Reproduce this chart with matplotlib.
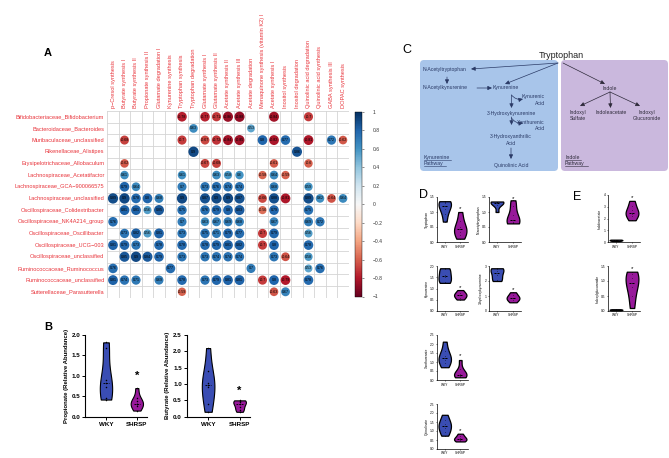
import numpy as np
import matplotlib
import matplotlib.pyplot as plt
from matplotlib.patches import Circle, FancyBboxPatch

plt.rcParams['font.family'] = ['Liberation Sans', 'DejaVu Sans']

# ---------------- data ----------------
taxa = ['Bifidobacteriaceae_Bifidobacterium', 'Bacteroidaceae_Bacteroides',
        'Muribaculaceae_unclassified', 'Rikenellaceae_Alistipes',
        'Erysipelotrichaceae_Allobaculum', 'Lachnospiraceae_Acetatifactor',
        'Lachnospiraceae_GCA\u2212900066575', 'Lachnospiraceae_unclassified',
        'Oscillospiraceae_Colidextribacter', 'Oscillospiraceae_NK4A214_group',
        'Oscillospiraceae_Oscillibacter', 'Oscillospiraceae_UCG\u2212003',
        'Oscillospiraceae_unclassified', 'Ruminococcaceae_Ruminococcus',
        'Ruminococcaceae_unclassified', 'Sutterellaceae_Parasutterella']

pathways = ['p\u2212Cresol synthesis', 'Butyrate synthesis I', 'Butyrate synthesis II',
            'Propionate synthesis II', 'Glutamate degradation I', 'Kynurenine synthesis',
            'Tryptophan synthesis', 'Tryptophan degradation', 'Glutamate synthesis I',
            'Glutamate synthesis II', 'Acetate synthesis II', 'Acetate synthesis III',
            'Acetate degradation', 'Menaquinone synthesis (vitamin K2) I',
            'Acetate synthesis I', 'Inositol synthesis', 'Inositol degradation',
            'Quinolinic acid degradation', 'Quinolinic acid synthesis',
            'GABA synthesis III', 'DOPAC synthesis']

N = None
corr = [
    [N, N, N, N, N, N, -0.78, N, -0.77, -0.71, -0.86, -0.88, N, N, -0.84, N, N, -0.7, N, N, N],
    [N, N, N, N, N, N, N, 0.63, N, N, N, N, 0.53, N, N, N, N, N, N, N, N],
    [N, -0.68, N, N, N, N, -0.7, N, -0.67, -0.72, -0.84, -0.85, N, 0.8, -0.82, 0.77, N, -0.81, N, 0.72, -0.62],
    [N, N, N, N, N, N, N, 0.9, N, N, N, N, N, N, N, N, 0.86, N, N, N, N],
    [N, -0.62, N, N, N, N, N, N, -0.67, -0.68, N, N, N, N, -0.61, N, N, -0.6, N, N, N],
    [N, 0.61, N, N, N, N, 0.61, N, N, 0.63, 0.58, 0.6, N, -0.58, 0.64, -0.59, N, N, N, N, N],
    [N, 0.79, 0.64, N, N, N, 0.7, N, 0.73, 0.76, 0.74, 0.74, N, N, 0.68, N, N, 0.59, N, N, N],
    [0.89, 0.9, 0.78, 0.8, 0.68, N, 0.9, N, 0.87, 0.9, 0.9, 0.87, N, -0.66, 0.88, -0.81, N, 0.89, 0.62, -0.64, 0.64],
    [N, 0.81, 0.81, 0.56, 0.85, N, 0.75, N, 0.76, 0.79, 0.8, 0.83, N, -0.56, 0.79, N, N, 0.75, N, N, N],
    [0.76, N, N, N, N, N, 0.7, N, 0.63, 0.67, 0.69, 0.68, N, N, 0.67, N, N, 0.69, 0.72, N, N],
    [N, 0.73, 0.82, 0.56, 0.81, N, 0.73, N, 0.75, 0.71, 0.79, 0.77, N, -0.7, 0.79, N, N, 0.56, N, N, N],
    [0.81, 0.79, 0.73, N, 0.78, N, 0.78, N, 0.78, 0.79, 0.81, 0.82, N, -0.7, 0.8, N, N, 0.78, N, N, N],
    [N, 0.85, 0.9, 0.84, 0.79, N, 0.73, N, 0.73, 0.74, 0.74, 0.74, N, N, 0.73, -0.64, N, 0.58, N, N, N],
    [0.76, N, N, N, N, 0.77, N, N, N, N, N, N, 0.7, N, N, N, N, 0.53, 0.76, N, N],
    [0.81, 0.74, 0.71, N, 0.69, N, 0.78, N, 0.73, 0.79, 0.81, 0.81, N, -0.7, 0.8, -0.79, N, 0.78, N, N, N],
    [N, N, N, N, N, N, -0.59, N, N, N, N, N, N, N, -0.63, 0.67, N, N, N, N, N],
]

groups = ['WKY', 'SHRSP']

# panel B
propionate_wky = [0.42, 0.45, 0.72, 0.82, 0.9, 1.67, 1.82]
propionate_shrsp = [0.15, 0.25, 0.3, 0.32, 0.38, 0.45, 0.7]
butyrate_wky = [0.15, 0.4, 0.9, 0.96, 1.02, 1.4, 2.1]
butyrate_shrsp = [0.15, 0.22, 0.3, 0.4, 0.45, 0.48, 0.5]

# panels D / E
tryptophan = ([0.68, 0.95, 1.1, 1.2, 1.3, 1.35, 1.36], [0.11, 0.25, 0.35, 0.42, 0.5, 0.7, 1.0])
n_acetyltrp = ([1.0, 1.25, 1.3, 1.33, 1.35, 1.35], [0.62, 0.64, 0.68, 0.75, 0.9, 1.2, 1.39])
kynurenine = ([1.25, 1.3, 1.5, 1.6, 1.85, 1.9], [0.51, 0.6, 0.7, 0.72, 0.8, 0.93])
hydroxykyn = ([2.0, 2.1, 2.4, 2.7, 2.8, 2.85], [0.58, 0.75, 0.85, 0.9, 1.05, 1.25])
xanthurenate = ([0.71, 0.95, 1.1, 1.2, 1.35, 1.6, 2.13], [0.15, 0.25, 0.28, 0.3, 0.35, 0.6, 1.11])
quinolinate = ([0.74, 0.95, 1.15, 1.3, 1.4, 1.6, 1.9], [0.42, 0.48, 0.55, 0.6, 0.7, 0.85])
indoleacetate = ([0.08, 0.12, 0.15, 0.18, 0.2], [1.85, 2.2, 2.4, 2.5, 2.7, 3.1, 3.5])
indoxylgluc = ([0.02, 0.03, 0.04, 0.05, 0.06], [0.1, 0.5, 0.8, 0.95, 1.1, 1.25, 1.31])

# ---------------- figure ----------------
W, H = 669, 458
fig = plt.figure(figsize=(W / 100, H / 100), dpi=100)


def px_axes(l, t, r, b):
    return fig.add_axes([l / W, 1 - b / H, (r - l) / W, (b - t) / H])


ov = fig.add_axes([0, 0, 1, 1])
ov.set_xlim(0, W)
ov.set_ylim(H, 0)
ov.axis('off')

# ---------------- A: correlation matrix ----------------
cmap = plt.get_cmap('RdBu')
norm = matplotlib.colors.Normalize(-1, 1)
red = '#e8333a'

ax = px_axes(107.25, 110.9, 348.75, 297.6)
ax.set_xlim(-0.5, len(pathways) - 0.5)
ax.set_ylim(len(taxa) - 0.5, -0.5)
ax.axis('off')
for i in range(len(pathways) + 1):
    ax.plot([i - 0.5, i - 0.5], [-0.5, len(taxa) - 0.5], color='#d4d4d4', lw=0.6, zorder=1)
for j in range(len(taxa) + 1):
    ax.plot([-0.5, len(pathways) - 0.5], [j - 0.5, j - 0.5], color='#d4d4d4', lw=0.6, zorder=1)
for r, row in enumerate(corr):
    for c, v in enumerate(row):
        if v is None:
            continue
        ax.add_patch(Circle((c, r), 0.47 * np.sqrt(abs(v)), facecolor=cmap(norm(v)),
                            edgecolor='none', zorder=2))
        ax.text(c, r, f'{v:g}', fontsize=2.6, ha='center', va='center', zorder=3)
for r, name in enumerate(taxa):
    ax.text(-0.75, r, name, color=red, fontsize=4.1, ha='right', va='center')
for c, name in enumerate(pathways):
    ax.text(c, -0.75, name, color=red, fontsize=4.1, ha='center', va='bottom', rotation=90)

cax = px_axes(355, 112, 362, 296.5)
cb = matplotlib.colorbar.ColorbarBase(cax, cmap=cmap, norm=norm, ticks=np.linspace(-1, 1, 11))
cb.outline.set_linewidth(0.3)
cb.ax.tick_params(labelsize=3.6, length=1.5, width=0.4, pad=6, colors='#333333')
cb.ax.set_yticklabels(['\u22121', '\u22120.8', '\u22120.6', '\u22120.4', '\u22120.2', '0',
                       '0.2', '0.4', '0.6', '0.8', '1'], ha='left')

# ---------------- violin helper ----------------
blue, purple = '#3a4db3', '#97199a'


def violins(ax, data, width, lw, dot):
    parts = ax.violinplot(data, positions=[1, 2], widths=width, showextrema=False)
    for body, col in zip(parts['bodies'], [blue, purple]):
        body.set_facecolor(col)
        body.set_edgecolor('black')
        body.set_linewidth(lw)
        body.set_alpha(1)
    for k, d in enumerate(data):
        ax.plot([k + 1 - width * 0.25, k + 1 + width * 0.25], [np.median(d)] * 2,
                color='black', lw=lw * 0.8, ls=(0, (2, 1)))
        ax.scatter([k + 1] * len(d), d, s=dot, color='black', zorder=3, linewidths=0)
    for s in ['top', 'right']:
        ax.spines[s].set_visible(False)
    ax.set_xticks([1, 2])
    ax.set_xticklabels(groups)


# ---------------- B ----------------
axb1 = px_axes(85, 335, 147, 416.7)
violins(axb1, [propionate_wky, propionate_shrsp], 0.4, 0.8, 1.2)
axb1.set_xlim(0.32, 2.33)
axb1.set_ylim(0, 2.0)
axb1.set_yticks([0, 0.5, 1.0, 1.5, 2.0])
axb1.set_ylabel('Propionate (Relative Abundance)', fontsize=4.3, fontweight='bold', labelpad=2)
axb1.text(2, 1.0, '*', fontsize=8, fontweight='bold', ha='center', va='center')

axb2 = px_axes(186.7, 335, 250, 416.7)
violins(axb2, [butyrate_wky, butyrate_shrsp], 0.4, 0.8, 1.2)
axb2.set_xlim(0.32, 2.33)
axb2.set_ylim(0, 2.5)
axb2.set_yticks([0, 0.5, 1.0, 1.5, 2.0, 2.5])
axb2.set_ylabel('Butyrate (Relative Abundance)', fontsize=4.3, fontweight='bold', labelpad=2)
axb2.text(2, 0.8, '*', fontsize=8, fontweight='bold', ha='center', va='center')

for a in (axb1, axb2):
    a.tick_params(labelsize=4.5, length=2, width=0.7, pad=1.5)
    for t in a.get_xticklabels() + a.get_yticklabels():
        t.set_fontweight('bold')
    for s in ['left', 'bottom']:
        a.spines[s].set_linewidth(0.8)
    a.yaxis.set_major_formatter(matplotlib.ticker.FormatStrFormatter('%.1f'))

# ---------------- D / E ----------------
small = [
    ((437, 197, 468, 242), tryptophan, 'Tryptophan', [0, 0.5, 1.0, 1.5], 1.1),
    ((489, 197, 521, 242), n_acetyltrp, 'N-acetyltryptophan', [0, 0.5, 1.0, 1.5], 1.45),
    ((608, 195, 640, 242), indoleacetate, 'Indoleacetate', [0, 1, 2, 3, 4], 3.75),
    ((437, 266, 468, 311), kynurenine, 'Kynurenine', [0, 0.5, 1.0, 1.5, 2.0], 1.05),
    ((489, 266, 521, 311), hydroxykyn, '3-hydroxykynurenine', [0, 1, 2, 3], 1.45),
    ((608, 266, 640, 311), indoxylgluc, 'Indoxylglucuronide', [0, 0.5, 1.0, 1.5], 1.42),
    ((437, 335, 468, 380), xanthurenate, 'Xanthurenate', [0, 0.5, 1.0, 1.5, 2.0, 2.5], 1.35),
    ((437, 404, 468, 449), quinolinate, 'Quinolinate', [0, 0.5, 1.0, 1.5, 2.0, 2.5], 1.05),
]
for box, data, label, yt, star in small:
    a = px_axes(*box)
    violins(a, list(data), 0.8, 0.9, 0.15)
    a.set_xlim(0.5, 2.5)
    a.set_ylim(0, yt[-1])
    a.set_yticks(yt)
    if isinstance(yt[1], float):
        a.yaxis.set_major_formatter(matplotlib.ticker.FormatStrFormatter('%.1f'))
    a.set_ylabel(label, fontsize=2.4, labelpad=1)
    a.tick_params(labelsize=2.3, length=1, width=0.4, pad=0.8)
    for s in ['left', 'bottom']:
        a.spines[s].set_linewidth(0.5)
    a.text(2, star, '*', fontsize=4.5, ha='center', va='center')

# ---------------- C: pathway diagram ----------------
navy = '#2a3a66'
ov.add_patch(FancyBboxPatch((421, 61), 136, 109, boxstyle='round,pad=1,rounding_size=4',
                            facecolor='#a8c5ea', edgecolor='none'))
ov.add_patch(FancyBboxPatch((562, 61), 105, 109, boxstyle='round,pad=1,rounding_size=4',
                            facecolor='#cab8dd', edgecolor='none'))
ov.text(561, 55, 'Tryptophan', fontsize=6.5, ha='center', va='center', color='#222222')

fs = 3.7
ov.text(423, 69, 'N-Acetyltryptophan', fontsize=fs, color=navy, va='center')
ov.text(423, 88, 'N-Acetylkynurenine', fontsize=fs, color=navy, va='center')
ov.text(506, 88, 'Kynurenine', fontsize=fs, color=navy, va='center', ha='center')
ov.text(545, 100, 'Kynurenic\nAcid', fontsize=fs, color=navy, va='center', ha='right',
        multialignment='right', linespacing=1.3)
ov.text(511, 113, '3-Hydroxykynurenine', fontsize=fs, color=navy, va='center', ha='center')
ov.text(545, 125.5, 'Xanthurenic\nAcid', fontsize=fs, color=navy, va='center', ha='right',
        multialignment='right', linespacing=1.3)
ov.text(511, 140, '3-Hydroxyanthrilic\nAcid', fontsize=fs, color=navy, va='center',
        ha='center', linespacing=1.3)
ov.text(511, 165, 'Quinolinic Acid', fontsize=fs, color=navy, va='center', ha='center')
ov.text(424, 160.5, 'Kynurenine\nPathway', fontsize=fs, color=navy, va='center', linespacing=1.4)
ov.plot([424, 451], [159.5, 159.5], color=navy, lw=0.4)
ov.plot([424, 446], [166, 166], color=navy, lw=0.4)

dark = '#2e2a3a'
ov.text(610, 88, 'Indole', fontsize=fs, color=dark, va='center', ha='center')
ov.text(578, 115.5, 'Indoxyl\nSulfate', fontsize=fs, color=dark, va='center', ha='center',
        linespacing=1.3)
ov.text(611, 113, 'Indoleacetate', fontsize=fs, color=dark, va='center', ha='center')
ov.text(647, 115.5, 'Indoxyl\nGlucuronide', fontsize=fs, color=dark, va='center',
        ha='center', linespacing=1.3)
ov.text(565, 160.5, 'Indole\nPathway', fontsize=fs, color=dark, va='center', linespacing=1.4)
ov.plot([565, 581], [159.5, 159.5], color=dark, lw=0.4)
ov.plot([565, 588], [166, 166], color=dark, lw=0.4)

arrows = [((558, 63), (471, 69), 0), ((558, 63), (505, 84), 0), ((447, 77), (447, 84), 0),
          ((477, 88), (492, 88), 0), ((511.5, 95), (523, 99), 0.3),
          ((511.5, 95), (511.5, 108), 0), ((511.5, 117), (511.5, 125), 0),
          ((511.5, 118), (523, 123), 0.3), ((511, 148), (511, 159), 0),
          ((563, 63), (605, 84), 0), ((610, 92), (580, 106), 0),
          ((610, 92), (610.5, 108), 0), ((610, 92), (640, 106), 0)]
for start, end, rad in arrows:
    col = navy if start[0] < 560 else dark
    ov.annotate('', xy=end, xytext=start,
                arrowprops=dict(arrowstyle='-|>,head_length=0.25,head_width=0.12', color=col,
                                lw=0.5, shrinkA=0, shrinkB=0,
                                connectionstyle=f'arc3,rad={rad}'))

# ---------------- panel letters ----------------
ov.text(48, 53, 'A', fontsize=8, fontweight='bold', ha='center', va='center')
ov.text(48, 327, 'B', fontsize=8, fontweight='bold', ha='center', va='center')
ov.text(407, 50, 'C', fontsize=9, ha='center', va='center')
ov.text(423, 195, 'D', fontsize=9, ha='center', va='center')
ov.text(577, 197, 'E', fontsize=9, ha='center', va='center')

fig.savefig('out.png', dpi=100)
